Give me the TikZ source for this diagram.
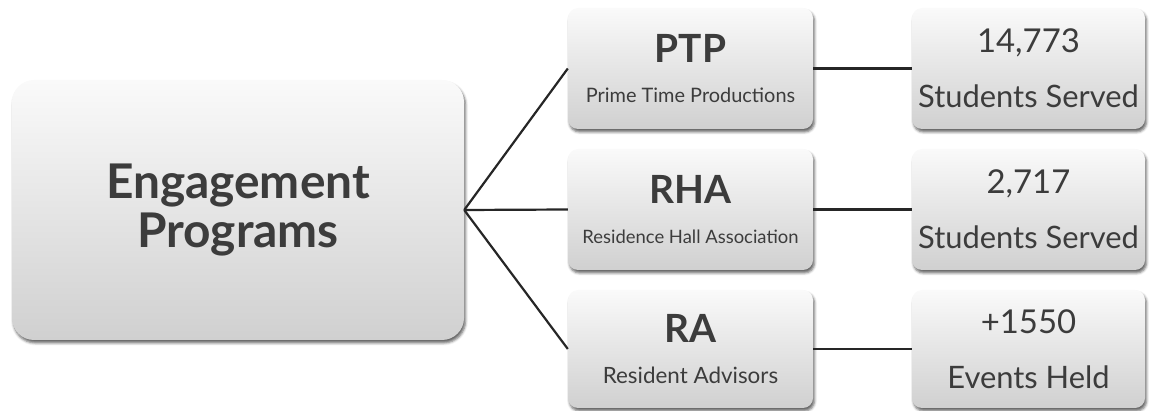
\documentclass[tikz,border=0pt]{standalone}
\usepackage{fontspec}
\setmainfont{Lato}
\usetikzlibrary{shadows.blur}
\definecolor{boxtext}{HTML}{3C3C3C}
\definecolor{linkline}{HTML}{262626}
\definecolor{boxtop}{HTML}{FAFAFA}
\definecolor{boxbottom}{HTML}{D0D0D0}

\begin{document}
\begin{tikzpicture}[line join=bevel,
  box/.style={rectangle,rounded corners=10bp,top color=boxtop,bottom color=boxbottom,
    inner sep=0pt,align=center,text=boxtext,
    blur shadow={shadow xshift=1.5bp,shadow yshift=-3bp,shadow blur radius=2.5bp,shadow opacity=60}},
  mainbox/.style={box,rounded corners=22bp,minimum width=452bp,minimum height=260bp},
  progbox/.style={box,minimum width=245bp,minimum height=121bp},
  countbox/.style={box,minimum width=233bp,minimum height=121bp},
  link/.style={linkline,line width=2.2bp}]
%%
\useasboundingbox (0bp,0bp) rectangle (1149bp,411bp);
\node (node_main) at (238bp,201bp) [mainbox,font=\fontsize{48}{49}\selectfont\bfseries] {Engagement\\Programs};
  \node (node_ptp) at (690.5bp,342.5bp) [progbox,font=\fontsize{20}{40}\selectfont] {{\fontsize{39}{40}\selectfont\bfseries PTP}\\Prime Time Productions};
  \node (node_rha) at (690.5bp,201.5bp) [progbox,font=\fontsize{18.5}{40}\selectfont] {{\fontsize{39}{40}\selectfont\bfseries RHA}\\Residence Hall Association};
  \node (node_ra) at (690.5bp,62bp) [progbox,minimum height=118bp,font=\fontsize{22.5}{42}\selectfont] {{\fontsize{39}{42}\selectfont\bfseries RA}\\Resident Advisors};
  \node (node_ptp_count) at (1028.5bp,342.5bp) [countbox,font=\fontsize{31}{55}\selectfont] {{\fontsize{33}{55}\selectfont 14,773}\\Students Served};
  \node (node_rha_count) at (1028.5bp,201.5bp) [countbox,font=\fontsize{31}{55}\selectfont] {{\fontsize{33}{55}\selectfont 2,717}\\Students Served};
  \node (node_ra_count) at (1028.5bp,62bp) [countbox,minimum height=118bp,font=\fontsize{31}{55}\selectfont] {{\fontsize{33}{55}\selectfont +1550}\\Events Held};
  \draw [link] (node_main.east) -- (node_ptp.west);
  \draw [link] (node_main.east) -- (node_rha.west);
  \draw [link] (node_main.east) -- (node_ra.west);
  \draw [link] (node_ptp.east) -- (node_ptp_count.west);
  \draw [link] (node_rha.east) -- (node_rha_count.west);
  \draw [link] (node_ra.east) -- (node_ra_count.west);
%
\end{tikzpicture}
\end{document}
